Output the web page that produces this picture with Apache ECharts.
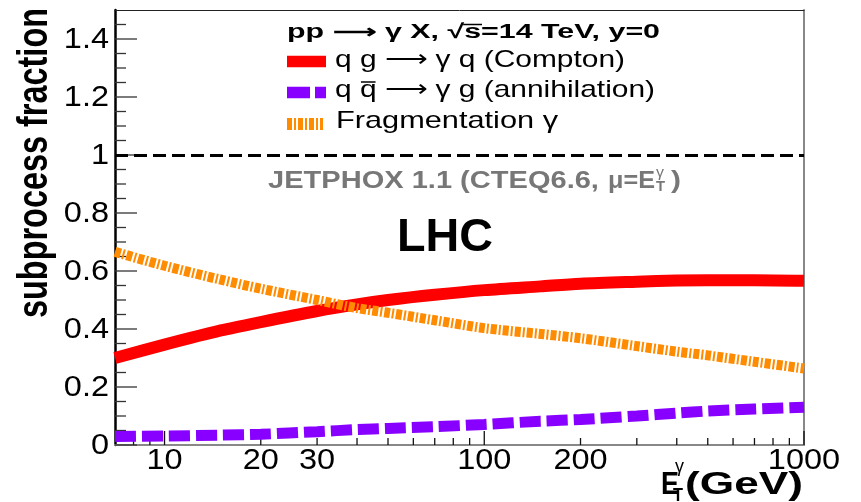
<!DOCTYPE html>
<html><head><meta charset="utf-8">
<script src="https://cdn.jsdelivr.net/npm/echarts@6/dist/echarts.min.js"></script>
<style>html,body{margin:0;padding:0;background:#fff}#c{width:861px;height:502px}</style>
</head><body><div id="c"></div>
<script>
// ---- data ----
const energies      = [7, 10, 15, 20, 30, 40, 50, 70, 100, 150, 200, 300, 400, 500, 700, 1000];
const compton       = [0.300, 0.346, 0.395, 0.424, 0.462, 0.485, 0.500, 0.518, 0.534, 0.547, 0.556, 0.563, 0.567, 0.568, 0.568, 0.566];
const annihilation  = [0.029, 0.031, 0.034, 0.037, 0.046, 0.053, 0.057, 0.063, 0.071, 0.082, 0.088, 0.100, 0.110, 0.117, 0.124, 0.130];
const fragmentation = [0.666, 0.618, 0.570, 0.539, 0.500, 0.472, 0.456, 0.430, 0.403, 0.383, 0.368, 0.341, 0.322, 0.309, 0.287, 0.264];
const xMajorTicks = [10, 100, 1000];
const xMinorTicks = [8, 9, 20, 30, 40, 50, 60, 70, 80, 90, 200, 300, 400, 500, 600, 700, 800, 900];
const xTickLabels = [10, 20, 30, 100, 200, 1000];
const yMajorTicks = [0, 0.2, 0.4, 0.6, 0.8, 1.0, 1.2, 1.4];
const yMinorTicks = [0.05, 0.1, 0.15, 0.25, 0.3, 0.35, 0.45, 0.5, 0.55, 0.65, 0.7, 0.75, 0.85, 0.9, 0.95, 1.05, 1.1, 1.15, 1.25, 1.3, 1.35, 1.45];
const yTickLabels = ['0', '0.2', '0.4', '0.6', '0.8', '1', '1.2', '1.4'];
const X_MIN = 7, X_MAX = 1000, Y_MIN = 0, Y_MAX = 1.5, REF_LINE = 1;

// ---- helpers ----
const FF = '"Liberation Sans", Arial, Helvetica, sans-serif';
const mctx = document.createElement('canvas').getContext('2d');
function fit(text, font, width) { mctx.font = font; return width / mctx.measureText(text).width; }
function txt(text, font, left, cy, width, fill, extra) {
  return Object.assign({
    type: 'text', x: left, y: cy, scaleX: fit(text, font, width), z: 100,
    style: { text: text, font: font, fill: fill || '#000', align: 'left', verticalAlign: 'middle' }
  }, extra || {});
}
const AX_FONT = '29px ' + FF;
const AX_SX = 1.12;
const ARROW = '\u27f6';

function xTickSeries(vals, len) {
  return {
    type: 'custom', coordinateSystem: 'cartesian2d', silent: true, z: 1,
    data: vals.map(v => [v, Y_MIN]),
    renderItem: function (params, api) {
      const p = api.coord([api.value(0), api.value(1)]);
      return { type: 'line', shape: { x1: p[0], y1: p[1], x2: p[0], y2: p[1] - len }, style: { stroke: '#111', lineWidth: 1.3 } };
    }
  };
}
function yTickSeries(vals, len) {
  return {
    type: 'custom', coordinateSystem: 'cartesian2d', silent: true, z: 1,
    data: vals.map(v => [X_MIN, v]),
    renderItem: function (params, api) {
      const p = api.coord([api.value(0), api.value(1)]);
      return { type: 'line', shape: { x1: p[0], y1: p[1], x2: p[0] + len, y2: p[1] }, style: { stroke: '#333', lineWidth: 1.3 } };
    }
  };
}

const chart = echarts.init(document.getElementById('c'), null, { renderer: 'canvas' });

// legend / annotation texts
const titleFont = 'bold 20px ' + FF;
const titleText = 'pp ' + ARROW + ' \u03b3 X, \u221as=14 TeV, y=0';
const titleSx = fit(titleText, titleFont, 373);
mctx.font = titleFont;
const sqrtStart = 287 + mctx.measureText('pp ' + ARROW + ' \u03b3 X, \u221a').width * titleSx;
const sqrtEnd = sqrtStart + mctx.measureText('s').width * titleSx;

const rowFont = '24px ' + FF;
const row3Text = 'q q ' + ARROW + ' \u03b3 g (annihilation)';
const row3Sx = fit(row3Text, rowFont, 320);
mctx.font = rowFont;
const qbStart = 335 + mctx.measureText('q ').width * row3Sx;
const qbEnd = qbStart + mctx.measureText('q').width * row3Sx;

const graphics = [
  txt(titleText, titleFont, 287, 32, 373),
  { type: 'line', z: 100, shape: { x1: sqrtStart - 1, y1: 24.5, x2: sqrtEnd + 1, y2: 24.5 }, style: { stroke: '#000', lineWidth: 1.5 } },
  { type: 'line', z: 100, shape: { x1: 287, y1: 61.5, x2: 326, y2: 61.5 }, style: { stroke: '#ff0000', lineWidth: 11.5 } },
  txt('q g ' + ARROW + ' \u03b3 q (Compton)', rowFont, 335, 60, 290),
  { type: 'line', z: 100, shape: { x1: 287, y1: 92.5, x2: 326, y2: 92.5 }, style: { stroke: '#8800ff', lineWidth: 11.5, lineDash: [23, 5] } },
  txt(row3Text, rowFont, 335, 90, 320),
  { type: 'line', z: 100, shape: { x1: qbStart + 1, y1: 82, x2: qbEnd - 1, y2: 82 }, style: { stroke: '#000', lineWidth: 1.5 } },
  { type: 'line', z: 100, shape: { x1: 287, y1: 124, x2: 323, y2: 124 }, style: { stroke: '#ff8c00', lineWidth: 12, lineDash: [5, 2, 2, 2] } },
  txt('Fragmentation \u03b3', rowFont, 336, 121, 222),
  // JETPHOX line
  txt('JETPHOX 1.1 (CTEQ6.6, ', 'bold 23px ' + FF, 268, 181.5, 339, '#777'),
  txt('\u03bc=E', 'bold 23px ' + FF, 608, 181.5, 47, '#777'),
  txt('\u03b3', '14px ' + FF, 656, 173, 8, '#777'),
  txt('T', 'bold 14px ' + FF, 656, 187, 9, '#777'),
  txt(')', 'bold 23px ' + FF, 671, 181.5, 10, '#777'),
  // LHC
  txt('LHC', 'bold 46px ' + FF, 397, 238.5, 96),
  // x axis title
  txt('E', 'bold 32px ' + FF, 661, 485, 18),
  txt('\u03b3', '18px ' + FF, 675, 467, 9),
  txt('T', 'bold 18px ' + FF, 673, 496, 10),
  txt('(GeV)', 'bold 32px ' + FF, 685, 485, 118),
  // y axis title
  (function () {
    const f = 'bold 42px ' + FF, t = 'subprocess fraction';
    return { type: 'text', x: 35, y: 163, rotation: Math.PI / 2, scaleX: fit(t, f, 310), z: 100,
      style: { text: t, font: f, fill: '#000', align: 'center', verticalAlign: 'middle' } };
  })()
];

const option = {
  animation: false,
  backgroundColor: '#fff',
  grid: { left: 115, right: 57, top: 10, bottom: 57, containLabel: false },
  xAxis: [
    { type: 'log', logBase: 10, min: X_MIN, max: X_MAX,
      axisLine: { show: true, onZero: false, lineStyle: { color: '#888', width: 2 } },
      axisTick: { show: false }, axisLabel: { show: false }, splitLine: { show: false }, minorTick: { show: false } },
    { type: 'log', logBase: 10, min: X_MIN, max: X_MAX, position: 'top',
      axisLine: { show: true, onZero: false, lineStyle: { color: '#222', width: 1 } },
      axisTick: { show: false }, axisLabel: { show: false }, splitLine: { show: false } }
  ],
  yAxis: [
    { type: 'value', min: Y_MIN, max: Y_MAX,
      axisLine: { show: true, onZero: false, lineStyle: { color: '#000', width: 2.5 } },
      axisTick: { show: false }, axisLabel: { show: false }, splitLine: { show: false } },
    { type: 'value', min: Y_MIN, max: Y_MAX, position: 'right',
      axisLine: { show: true, onZero: false, lineStyle: { color: '#888', width: 2 } },
      axisTick: { show: false }, axisLabel: { show: false }, splitLine: { show: false } }
  ],
  graphic: graphics,
  series: [
    xTickSeries(xMajorTicks, 14),
    xTickSeries(xMinorTicks, 7),
    yTickSeries(yMajorTicks, 22),
    yTickSeries(yMinorTicks, 11),
    { // x tick labels
      type: 'custom', coordinateSystem: 'cartesian2d', silent: true, z: 5,
      data: xTickLabels.map(v => [v, Y_MIN]),
      renderItem: function (params, api) {
        const p = api.coord([api.value(0), api.value(1)]);
        return { type: 'text', x: p[0], y: p[1] + 16, scaleX: AX_SX,
          style: { text: String(xTickLabels[params.dataIndex]), font: AX_FONT, fill: '#000', align: 'center', verticalAlign: 'middle' } };
      }
    },
    { // y tick labels
      type: 'custom', coordinateSystem: 'cartesian2d', silent: true, z: 5,
      data: yTickLabels.map(s => [X_MIN, Number(s)]),
      renderItem: function (params, api) {
        const p = api.coord([api.value(0), api.value(1)]);
        return { type: 'text', x: p[0] - 6, y: p[1] + 1, scaleX: AX_SX,
          style: { text: yTickLabels[params.dataIndex], font: AX_FONT, fill: '#000', align: 'right', verticalAlign: 'middle' } };
      }
    },
    { name: 'Compton', type: 'line', showSymbol: false, smooth: 0.3, z: 3,
      data: energies.map((e, i) => [e, compton[i]]),
      lineStyle: { color: '#ff0000', width: 12, cap: 'butt' },
      markLine: { silent: true, symbol: ['none', 'none'], label: { show: false },
        lineStyle: { color: '#000', width: 3, type: [13, 6] }, data: [{ yAxis: REF_LINE }] } },
    { name: 'annihilation', type: 'line', showSymbol: false, smooth: 0.3, z: 3,
      data: energies.map((e, i) => [e, annihilation[i]]),
      lineStyle: { color: '#8800ff', width: 11, type: [21, 6], cap: 'butt' } },
    { name: 'Fragmentation', type: 'line', showSymbol: false, smooth: 0.3, z: 3,
      data: energies.map((e, i) => [e, fragmentation[i]]),
      lineStyle: { color: '#ff8c00', width: 10, type: [6, 2, 2, 2], cap: 'butt' } }
  ]
};
chart.setOption(option);
</script>
</body></html>
